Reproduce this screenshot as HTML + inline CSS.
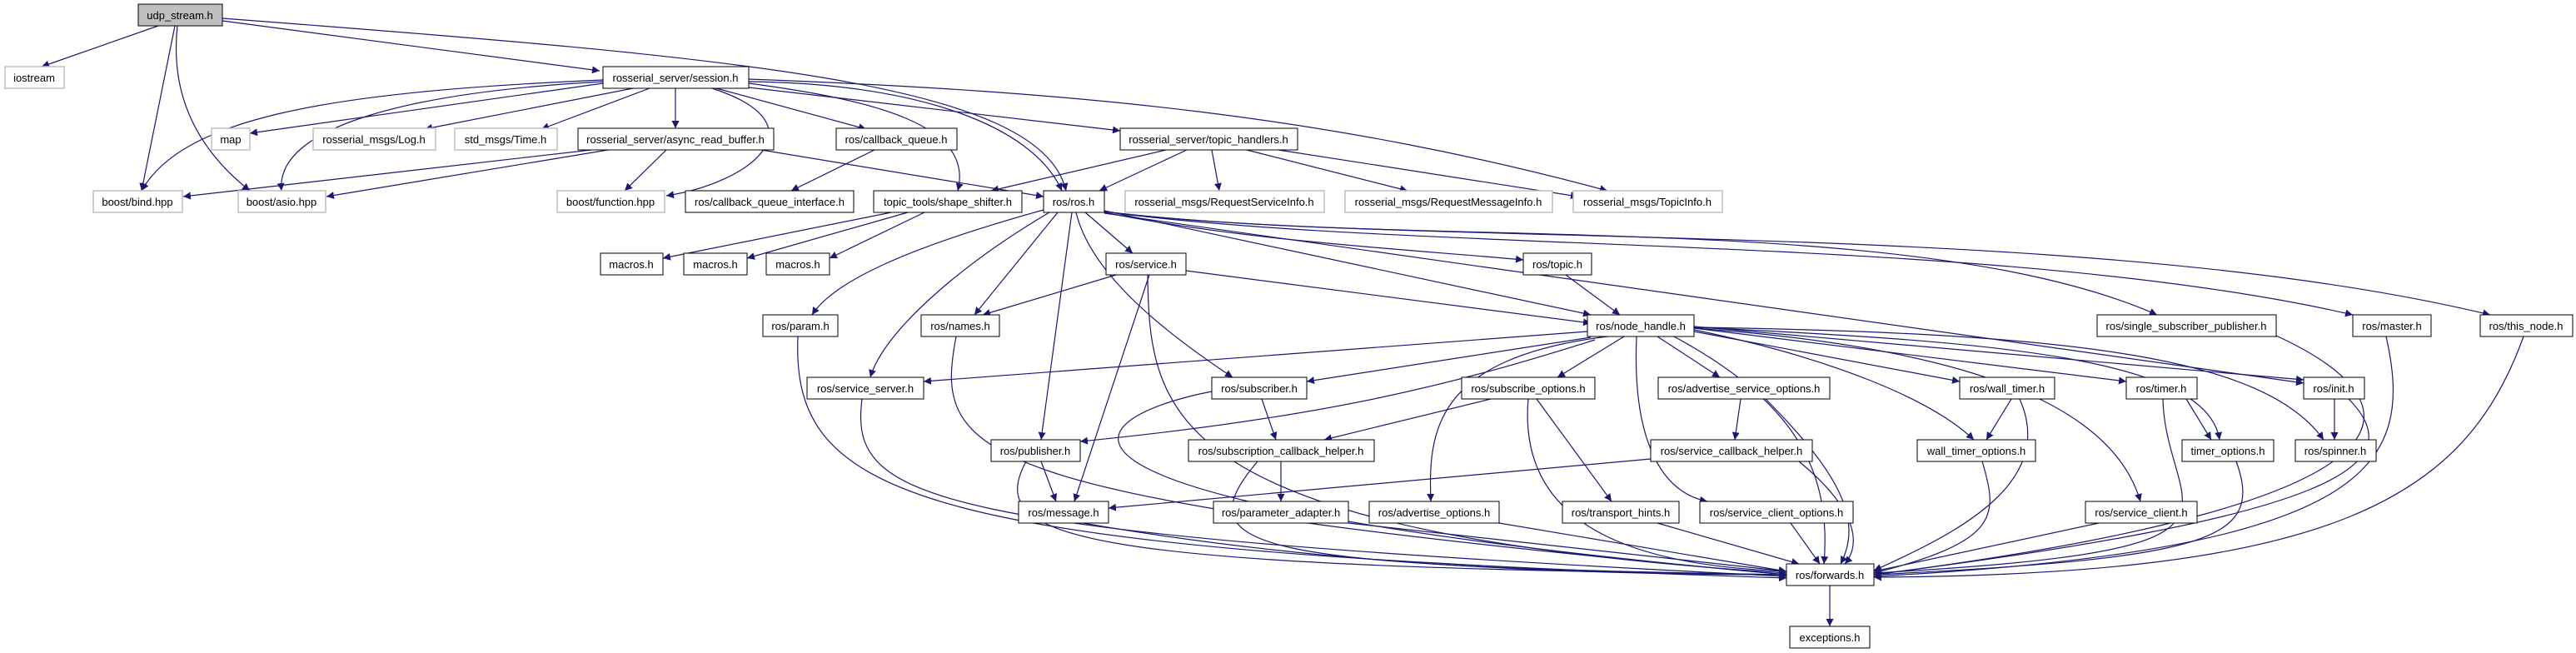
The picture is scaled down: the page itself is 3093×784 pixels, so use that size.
<!DOCTYPE html>
<html><head><meta charset="utf-8"><style>
html,body{margin:0;padding:0;background:#fff;}
svg{display:block;}
text{font-family:"Liberation Sans",sans-serif;font-size:13px;text-anchor:middle;fill:#000;}
.b{fill:#fff;stroke:#000;stroke-width:1;}
.g{fill:#fff;stroke:#bfbfbf;stroke-width:1.5;}
.e{fill:none;stroke:#191970;stroke-width:1.2;marker-end:url(#a);}
</style></head><body>
<svg width="3093" height="784" viewBox="0 0 3093 784" xmlns="http://www.w3.org/2000/svg">
<defs><marker id="a" viewBox="0 0 10 10" refX="10" refY="5" markerWidth="9" markerHeight="9" markerUnits="userSpaceOnUse" orient="auto"><path d="M0,0 L10,5 L0,10 z" fill="#191970"/></marker></defs>
<g>
<path class="e" d="M190,31 L50,80"/>
<path class="e" d="M210,31 L170,229"/>
<path class="e" d="M213,31 Q200,150 300,229"/>
<path class="e" d="M267,25 L720,85"/>
<path class="e" d="M267,22 C900,70 1250,100 1280,229"/>
<path class="e" d="M724,100 L300,160"/>
<path class="e" d="M760,106 L510,155"/>
<path class="e" d="M780,106 L650,155"/>
<path class="e" d="M811,106 L811,154"/>
<path class="e" d="M860,106 L1040,155"/>
<path class="e" d="M724,96 C400,110 220,140 170,229"/>
<path class="e" d="M724,98 C500,110 330,150 338,229"/>
<path class="e" d="M855,106 C990,150 900,220 800,235"/>
<path class="e" d="M899,105 L1345,157"/>
<path class="e" d="M899,98 C1100,100 1240,150 1275,229"/>
<path class="e" d="M899,100 C1050,120 1170,150 1150,229"/>
<path class="e" d="M899,95 C1300,110 1600,140 1930,229"/>
<path class="e" d="M710,180 L220,236"/>
<path class="e" d="M730,180 L392,236"/>
<path class="e" d="M800,180 L750,229"/>
<path class="e" d="M914,180 L1253,236"/>
<path class="e" d="M1050,180 L950,229"/>
<path class="e" d="M1400,180 L1190,229"/>
<path class="e" d="M1425,180 L1320,229"/>
<path class="e" d="M1455,180 L1464,229"/>
<path class="e" d="M1497,180 L1690,229"/>
<path class="e" d="M1535,180 L1895,236"/>
<path class="e" d="M1070,255 L796,310"/>
<path class="e" d="M1090,255 L897,310"/>
<path class="e" d="M1110,255 L996,310"/>
<path class="e" d="M1253,252 C1080,300 1000,340 975,378"/>
<path class="e" d="M1260,255 C1150,320 1060,400 1045,453"/>
<path class="e" d="M1270,255 L1170,378"/>
<path class="e" d="M1287,255 L1250,528"/>
<path class="e" d="M1292,255 C1310,330 1400,400 1480,453"/>
<path class="e" d="M1380,330 L1290,602"/>
<path class="e" d="M1378,330 C1380,500 1400,640 2145,688"/>
<path class="e" d="M1303,255 L1360,304"/>
<path class="e" d="M1326,255 C1500,290 1700,300 1829,312"/>
<path class="e" d="M1326,253 L1910,378"/>
<path class="e" d="M1326,256 L2766,460"/>
<path class="e" d="M1326,254 C1700,300 2300,250 2590,378"/>
<path class="e" d="M1326,254 C1700,305 2400,280 2825,378"/>
<path class="e" d="M1326,254 C1700,300 2500,260 2990,378"/>
<path class="e" d="M1340,330 L1180,378"/>
<path class="e" d="M1424,325 L1910,388"/>
<path class="e" d="M1880,330 L1945,378"/>
<path class="e" d="M1906,398 L1109,458"/>
<path class="e" d="M1910,405 L1569,458"/>
<path class="e" d="M1915,408 C1750,460 1600,500 1297,530"/>
<path class="e" d="M1950,404 L1870,453"/>
<path class="e" d="M1990,404 L2065,453"/>
<path class="e" d="M1930,404 C1720,430 1715,520 1718,602"/>
<path class="e" d="M1965,404 C1960,520 1990,590 2050,602"/>
<path class="e" d="M2010,404 C2150,480 2200,560 2190,677"/>
<path class="e" d="M2034,398 L2353,458"/>
<path class="e" d="M2034,396 C2200,430 2320,480 2370,528"/>
<path class="e" d="M2034,394 L2553,458"/>
<path class="e" d="M2034,393 C2400,410 2650,430 2665,528"/>
<path class="e" d="M2034,392 L2766,456"/>
<path class="e" d="M2034,393 C2500,400 2720,430 2790,528"/>
<path class="e" d="M2034,394 C2400,420 2540,500 2570,602"/>
<path class="e" d="M1035,479 C1020,600 1100,640 2145,692"/>
<path class="e" d="M1148,404 C1120,550 1160,600 2145,690"/>
<path class="e" d="M958,404 C950,600 1100,660 2145,694"/>
<path class="e" d="M1515,479 L1532,528"/>
<path class="e" d="M1455,470 C1300,500 1150,600 2145,690"/>
<path class="e" d="M1790,479 L1590,528"/>
<path class="e" d="M1845,479 L1935,602"/>
<path class="e" d="M1835,479 C1820,650 2000,680 2145,686"/>
<path class="e" d="M2090,479 L2083,528"/>
<path class="e" d="M2120,479 C2200,560 2240,620 2210,677"/>
<path class="e" d="M1982,551 L1331,610"/>
<path class="e" d="M2160,554 C2240,620 2230,660 2215,677"/>
<path class="e" d="M1250,554 L1268,602"/>
<path class="e" d="M1232,554 C1180,650 1300,680 2145,690"/>
<path class="e" d="M1510,554 C1420,660 1500,680 2145,690"/>
<path class="e" d="M1538,554 L1538,602"/>
<path class="e" d="M1300,628 C1600,680 1900,690 2145,690"/>
<path class="e" d="M1619,628 L2145,686"/>
<path class="e" d="M1800,628 L2145,686"/>
<path class="e" d="M1990,628 L2160,677"/>
<path class="e" d="M2150,628 L2185,677"/>
<path class="e" d="M2415,479 L2385,528"/>
<path class="e" d="M2425,479 C2470,580 2350,640 2250,685"/>
<path class="e" d="M2380,554 C2400,620 2400,650 2250,688"/>
<path class="e" d="M2625,479 L2655,528"/>
<path class="e" d="M2597,479 C2600,620 2750,660 2250,688"/>
<path class="e" d="M2685,554 C2720,650 2650,670 2250,690"/>
<path class="e" d="M2803,479 L2803,528"/>
<path class="e" d="M2820,479 C2900,560 2800,620 2250,690"/>
<path class="e" d="M2520,628 L2250,686"/>
<path class="e" d="M2733,403 C2900,480 2950,600 2250,690"/>
<path class="e" d="M2865,404 C2900,560 2850,660 2250,692"/>
<path class="e" d="M3030,404 C2960,600 2800,690 2250,693"/>
<path class="e" d="M2197,703 L2197,752"/>
</g>
<g>
<rect x="166" y="5" width="101" height="26" fill="#bfbfbf" stroke="#000"/><text x="216" y="23">udp_stream.h</text>
<rect class="g" x="6" y="80" width="71" height="26"/><text x="41" y="98" fill="#000">iostream</text>
<rect class="b" x="724" y="80" width="175" height="26"/><text x="811" y="98">rosserial_server/session.h</text>
<rect class="g" x="254" y="154" width="46" height="26"/><text x="277" y="172">map</text>
<rect class="g" x="376" y="154" width="147" height="26"/><text x="449" y="172">rosserial_msgs/Log.h</text>
<rect class="g" x="546" y="154" width="123" height="26"/><text x="607" y="172">std_msgs/Time.h</text>
<rect class="b" x="694" y="154" width="235" height="26"/><text x="811" y="172">rosserial_server/async_read_buffer.h</text>
<rect class="b" x="1004" y="154" width="145" height="26"/><text x="1076" y="172">ros/callback_queue.h</text>
<rect class="b" x="1345" y="154" width="213" height="26"/><text x="1451" y="172">rosserial_server/topic_handlers.h</text>
<rect class="g" x="112" y="229" width="107" height="26"/><text x="165" y="247">boost/bind.hpp</text>
<rect class="g" x="286" y="229" width="105" height="26"/><text x="338" y="247">boost/asio.hpp</text>
<rect class="g" x="669" y="229" width="129" height="26"/><text x="733" y="247">boost/function.hpp</text>
<rect class="b" x="823" y="229" width="202" height="26"/><text x="924" y="247">ros/callback_queue_interface.h</text>
<rect class="b" x="1049" y="229" width="178" height="26"/><text x="1138" y="247">topic_tools/shape_shifter.h</text>
<rect class="b" x="1253" y="229" width="73" height="26"/><text x="1289" y="247">ros/ros.h</text>
<rect class="g" x="1351" y="229" width="239" height="26"/><text x="1470" y="247">rosserial_msgs/RequestServiceInfo.h</text>
<rect class="g" x="1615" y="229" width="249" height="26"/><text x="1739" y="247">rosserial_msgs/RequestMessageInfo.h</text>
<rect class="g" x="1889" y="229" width="179" height="26"/><text x="1978" y="247">rosserial_msgs/TopicInfo.h</text>
<rect class="b" x="721" y="304" width="75" height="26"/><text x="758" y="322">macros.h</text>
<rect class="b" x="821" y="304" width="76" height="26"/><text x="859" y="322">macros.h</text>
<rect class="b" x="920" y="304" width="76" height="26"/><text x="958" y="322">macros.h</text>
<rect class="b" x="1328" y="304" width="96" height="26"/><text x="1376" y="322">ros/service.h</text>
<rect class="b" x="1829" y="304" width="82" height="26"/><text x="1870" y="322">ros/topic.h</text>
<rect class="b" x="916" y="378" width="90" height="26"/><text x="961" y="396">ros/param.h</text>
<rect class="b" x="1106" y="378" width="94" height="26"/><text x="1153" y="396">ros/names.h</text>
<rect class="b" x="1906" y="378" width="128" height="26"/><text x="1970" y="396">ros/node_handle.h</text>
<rect class="b" x="2518" y="378" width="215" height="26"/><text x="2625" y="396">ros/single_subscriber_publisher.h</text>
<rect class="b" x="2825" y="378" width="94" height="26"/><text x="2872" y="396">ros/master.h</text>
<rect class="b" x="2978" y="378" width="111" height="26"/><text x="3033" y="396">ros/this_node.h</text>
<rect class="b" x="969" y="453" width="140" height="26"/><text x="1039" y="471">ros/service_server.h</text>
<rect class="b" x="1455" y="453" width="114" height="26"/><text x="1512" y="471">ros/subscriber.h</text>
<rect class="b" x="1755" y="453" width="160" height="26"/><text x="1835" y="471">ros/subscribe_options.h</text>
<rect class="b" x="1991" y="453" width="206" height="26"/><text x="2094" y="471">ros/advertise_service_options.h</text>
<rect class="b" x="2353" y="453" width="114" height="26"/><text x="2410" y="471">ros/wall_timer.h</text>
<rect class="b" x="2553" y="453" width="85" height="26"/><text x="2595" y="471">ros/timer.h</text>
<rect class="b" x="2766" y="453" width="73" height="26"/><text x="2802" y="471">ros/init.h</text>
<rect class="b" x="1190" y="528" width="107" height="26"/><text x="1243" y="546">ros/publisher.h</text>
<rect class="b" x="1427" y="528" width="223" height="26"/><text x="1538" y="546">ros/subscription_callback_helper.h</text>
<rect class="b" x="1982" y="528" width="194" height="26"/><text x="2079" y="546">ros/service_callback_helper.h</text>
<rect class="b" x="2302" y="528" width="142" height="26"/><text x="2373" y="546">wall_timer_options.h</text>
<rect class="b" x="2620" y="528" width="110" height="26"/><text x="2675" y="546">timer_options.h</text>
<rect class="b" x="2756" y="528" width="97" height="26"/><text x="2804" y="546">ros/spinner.h</text>
<rect class="b" x="1223" y="602" width="108" height="26"/><text x="1277" y="620">ros/message.h</text>
<rect class="b" x="1457" y="602" width="162" height="26"/><text x="1538" y="620">ros/parameter_adapter.h</text>
<rect class="b" x="1644" y="602" width="156" height="26"/><text x="1722" y="620">ros/advertise_options.h</text>
<rect class="b" x="1876" y="602" width="140" height="26"/><text x="1946" y="620">ros/transport_hints.h</text>
<rect class="b" x="2041" y="602" width="184" height="26"/><text x="2133" y="620">ros/service_client_options.h</text>
<rect class="b" x="2504" y="602" width="134" height="26"/><text x="2571" y="620">ros/service_client.h</text>
<rect class="b" x="2145" y="677" width="105" height="26"/><text x="2197" y="695">ros/forwards.h</text>
<rect class="b" x="2149" y="752" width="96" height="26"/><text x="2197" y="770">exceptions.h</text>
</g>
</svg>
</body></html>
